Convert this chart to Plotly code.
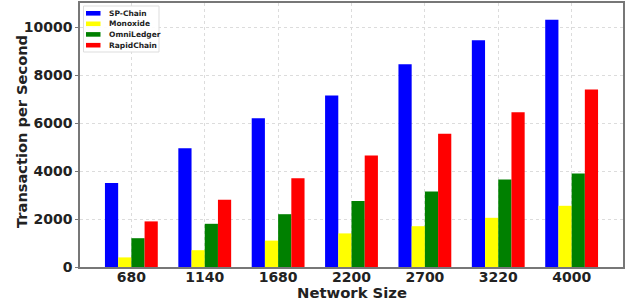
import plotly.graph_objects as go

categories = ["680", "1140", "1680", "2200", "2700", "3220", "4000"]
sp_chain = [3500, 4950, 6200, 7150, 8450, 9450, 10300]
monoxide = [400, 700, 1100, 1400, 1700, 2050, 2550]
omniledger = [1200, 1800, 2200, 2750, 3150, 3650, 3900]
rapidchain = [1900, 2800, 3700, 4650, 5550, 6450, 7400]
series_names = ["SP-Chain", "Monoxide", "OmniLedger", "RapidChain"]
series_colors = ["#0000ff", "#ffff00", "#008000", "#ff0000"]
y_ticks = [0, 2000, 4000, 6000, 8000, 10000]
y_tick_labels = ["0", "2000", "4000", "6000", "8000", "10000"]

W, H = 629, 305
L, R, T, B = 80, 6, 3, 38
PW, PH = W - L - R, H - T - B


def px_x(px):
    return (px - L) / PW


def px_y(py):
    return (H - B - py) / PH


fig = go.Figure()
for name, vals, col in zip(series_names, [sp_chain, monoxide, omniledger, rapidchain], series_colors):
    fig.add_trace(go.Bar(
        x=list(range(len(categories))), y=vals, name=name,
        marker=dict(color=col, line=dict(width=0)),
        width=0.18, showlegend=False,
    ))

font_family = "DejaVu Sans"
txt = "#222222"

shapes = []
annotations = []
# legend (drawn in paper coordinates)
shapes.append(dict(type="rect", xref="paper", yref="paper",
                   x0=px_x(83.5), x1=px_x(159), y0=px_y(52), y1=px_y(6),
                   fillcolor="rgba(255,255,255,0.9)", line=dict(color="#dddddd", width=1), layer="above"))
centers = [13.3, 23.8, 34.4, 45.2]
for name, col, cy in zip(series_names, series_colors, centers):
    shapes.append(dict(type="rect", xref="paper", yref="paper",
                       x0=px_x(86), x1=px_x(100.5), y0=px_y(cy + 2.3), y1=px_y(cy - 2.3),
                       fillcolor=col, line=dict(width=0), layer="above"))
    annotations.append(dict(text="<b>%s</b>" % name, xref="paper", yref="paper",
                            x=px_x(106.5), y=px_y(cy), xanchor="left", yanchor="middle",
                            showarrow=False, font=dict(family=font_family, size=7.5, color=txt)))
# axis titles
annotations.append(dict(text="<b>Network Size</b>", xref="paper", yref="paper",
                        x=px_x(351.5), y=px_y(292), xanchor="center", yanchor="middle",
                        showarrow=False, font=dict(family=font_family, size=14.8, color=txt)))
annotations.append(dict(text="<b>Transaction per Second</b>", xref="paper", yref="paper",
                        x=px_x(21), y=px_y(132), xanchor="center", yanchor="middle", textangle=-90,
                        showarrow=False, font=dict(family=font_family, size=14.6, color=txt)))

fig.update_layout(
    width=W, height=H,
    margin=dict(l=L, r=R, t=T, b=B, autoexpand=False),
    barmode="group", bargap=0.28, bargroupgap=0,
    paper_bgcolor="white", plot_bgcolor="white",
    font=dict(family=font_family, color=txt),
    showlegend=False,
    shapes=shapes, annotations=annotations,
    xaxis=dict(
        tickmode="array", tickvals=list(range(len(categories))), ticktext=categories,
        range=[-0.7, 6.7], automargin=False,
        showgrid=True, gridcolor="#dcdcdc", griddash="dot", gridwidth=1,
        showline=True, linecolor="#777777", linewidth=1.5, mirror=True,
        ticks="", ticklabelstandoff=-4,
        tickfont=dict(family=font_family, size=14, color=txt, weight="bold"),
        zeroline=False,
    ),
    yaxis=dict(
        range=[0, 11000], tickmode="array", tickvals=y_ticks, ticktext=y_tick_labels,
        automargin=False,
        showgrid=True, gridcolor="#dcdcdc", griddash="dot", gridwidth=1,
        showline=True, linecolor="#777777", linewidth=1.5, mirror=True,
        ticks="outside", ticklen=3, tickcolor="#777777",
        tickfont=dict(family=font_family, size=14, color=txt, weight="bold"),
        zeroline=False,
    ),
)
fig.write_html("out.html", config={"displayModeBar": False},
               post_script="document.body.style.margin='0';document.body.style.overflow='hidden';")
